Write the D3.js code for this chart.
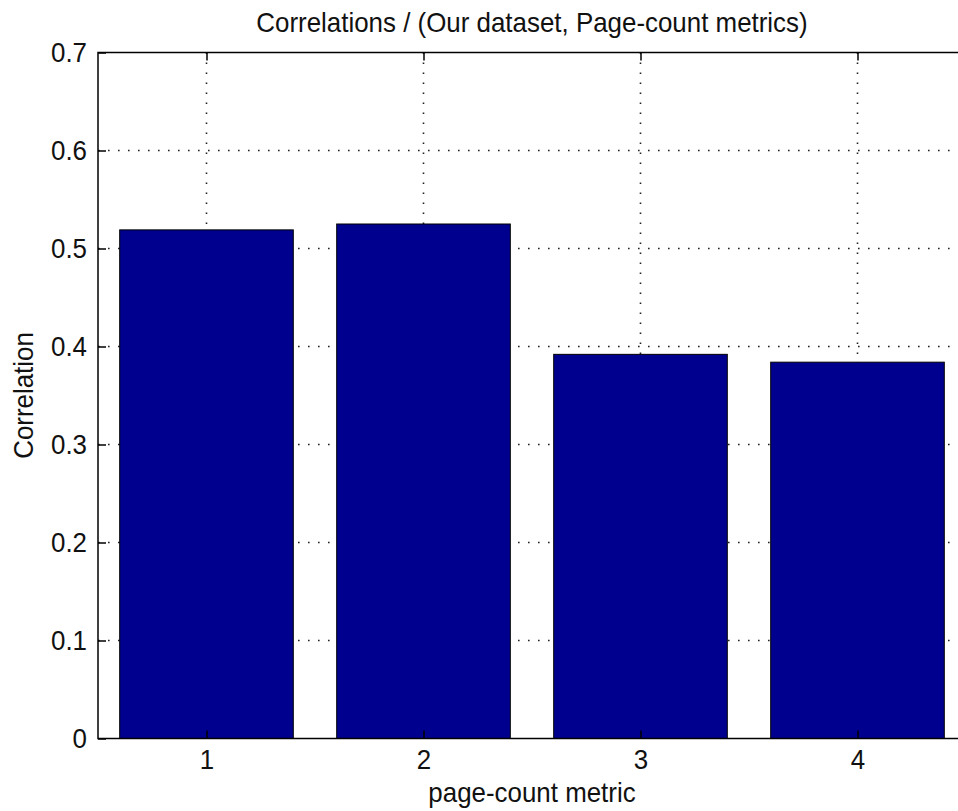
<!DOCTYPE html>
<html>
<head>
<meta charset="utf-8">
<script src="https://cdn.jsdelivr.net/npm/d3@7"></script>
<style>
  html, body { margin: 0; padding: 0; background: #fff; }
  svg { display: block; }
  text { font-family: "Liberation Sans Narrow", "Arial Narrow", "Liberation Sans", Arial, sans-serif; fill: #111; }
</style>
</head>
<body>
<svg id="chart" width="958" height="811"></svg>
<script>
// Correlation per page-count metric
const metrics = [1, 2, 3, 4];
const correlations = [0.519, 0.525, 0.392, 0.384];
const yTicks = [0, 0.1, 0.2, 0.3, 0.4, 0.5, 0.6, 0.7];
const yTickLabels = ["0", "0.1", "0.2", "0.3", "0.4", "0.5", "0.6", "0.7"];

const titleText = "Correlations / (Our dataset, Page-count metrics)";
const xLabelText = "page-count metric";
const yLabelText = "Correlation";

const svg = d3.select("#chart");
const W = 958, H = 811;
const plot = { left: 98, right: 966, top: 52.5, bottom: 738.5 };
const fontSize = 28;
const textSqueeze = 0.925;   // condensed lettering
const barColor = "#00008f";

svg.append("rect").attr("width", W).attr("height", H).attr("fill", "#fff");

const x = d3.scaleLinear().domain([0.5, 4.5]).range([plot.left, plot.right]);
const y = d3.scaleLinear().domain([0, 0.7]).range([plot.bottom, plot.top]);

// dotted grid
const grid = svg.append("g").attr("stroke", "#222").attr("stroke-width", 1.6)
  .attr("stroke-dasharray", "1.6 8.4").attr("fill", "none");
grid.selectAll("line.gy").data(yTicks.slice(1, -1)).join("line")
  .attr("x1", plot.left).attr("x2", plot.right)
  .attr("y1", d => y(d)).attr("y2", d => y(d));
grid.selectAll("line.gx").data(metrics).join("line")
  .attr("x1", d => x(d)).attr("x2", d => x(d))
  .attr("y1", plot.top).attr("y2", plot.bottom);

// bars
const barW = 0.8;
svg.append("g").selectAll("rect").data(metrics).join("rect")
  .attr("x", (d) => x(d - barW / 2))
  .attr("width", (d) => x(d + barW / 2) - x(d - barW / 2))
  .attr("y", (d, i) => y(correlations[i]))
  .attr("height", (d, i) => y(0) - y(correlations[i]))
  .attr("fill", barColor)
  .attr("stroke", "#000")
  .attr("stroke-width", 1);

// axes with inward ticks
const styleAxis = g => {
  g.select(".domain").remove();
  g.selectAll(".tick line").attr("stroke", "#000").attr("stroke-width", 1.5);
  g.selectAll(".tick text").style("font-size", fontSize + "px").attr("fill", "#111");
};

svg.append("g").attr("transform", `translate(0,${plot.bottom})`)
  .call(d3.axisBottom(x).tickValues(metrics).tickFormat(d3.format("d")).tickSize(-8).tickPadding(11))
  .call(styleAxis);

svg.append("g").attr("transform", `translate(0,${plot.top})`)
  .call(d3.axisTop(x).tickValues(metrics).tickFormat("").tickSize(-8))
  .call(styleAxis);

svg.append("g").attr("transform", `translate(${plot.left},0)`)
  .call(d3.axisLeft(y).tickValues(yTicks).tickFormat((d, i) => yTickLabels[i]).tickSize(-8).tickPadding(11))
  .call(styleAxis);

svg.append("g").attr("transform", `translate(${plot.right},0)`)
  .call(d3.axisRight(y).tickValues(yTicks).tickFormat("").tickSize(-8))
  .call(styleAxis);

// frame
svg.append("rect")
  .attr("x", plot.left).attr("y", plot.top)
  .attr("width", plot.right - plot.left).attr("height", plot.bottom - plot.top)
  .attr("fill", "none").attr("stroke", "#000").attr("stroke-width", 1.5);

// title and labels
const cx = (plot.left + plot.right) / 2;
svg.append("text").attr("x", cx).attr("y", 32)
  .attr("text-anchor", "middle").style("font-size", fontSize + "px").text(titleText);

svg.append("text").attr("x", cx).attr("y", 802)
  .attr("text-anchor", "middle").style("font-size", fontSize + "px").text(xLabelText);

svg.append("text")
  .attr("transform", `translate(33,${(plot.top + plot.bottom) / 2}) rotate(-90)`)
  .attr("text-anchor", "middle").style("font-size", fontSize + "px").text(yLabelText);

// narrow every label horizontally, keeping its anchor in place
svg.selectAll("text").each(function () {
  const len = this.getComputedTextLength();
  if (len > 0) {
    d3.select(this)
      .attr("textLength", len * textSqueeze)
      .attr("lengthAdjust", "spacingAndGlyphs");
  }
});
</script>
</body>
</html>
